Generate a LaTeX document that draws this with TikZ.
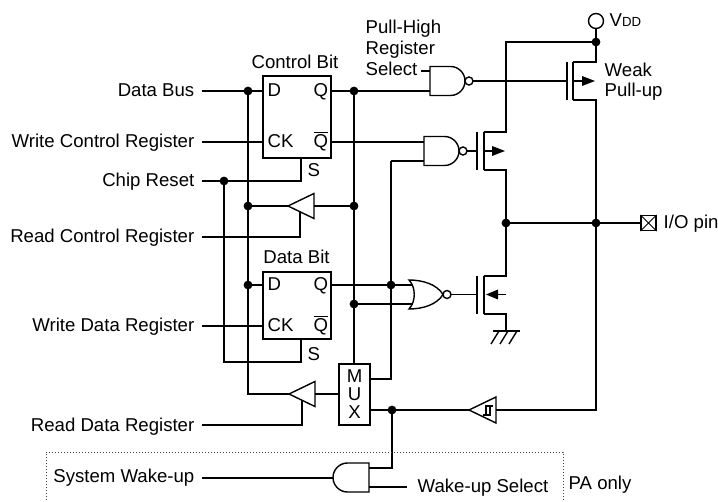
\documentclass[tikz,border=0pt]{standalone}
\usepackage{fontspec}
\setmainfont{Liberation Sans}
\begin{document}
\begin{tikzpicture}[x=0.5pt,y=-0.5pt,line width=0.7pt,line join=miter,
  lbl/.style={inner sep=0pt,font=\fontsize{9.3}{11}\selectfont},
  jdot/.style={circle,fill,inner sep=0pt,minimum size=4.4pt},
  ffbox/.style={draw,rectangle,inner sep=0pt,minimum width=34pt},
  dottedline/.style={line width=0.5pt,black!75,dash pattern=on 0.5pt off 1pt},
  nandgate/.pic={
    \draw (0,-14.5) -- (20.5,-14.5) .. controls (28.5,-14.5) and (35,-8) .. (35,0)
          .. controls (35,8) and (28.5,14.5) .. (20.5,14.5) -- (0,14.5) -- cycle;
    \draw (39,0) circle[radius=2pt];},
  andgate/.pic={
    \draw (0,-14.5) -- (21.5,-14.5) .. controls (29.5,-14.5) and (36,-8) .. (36,0)
          .. controls (36,8) and (29.5,14.5) .. (21.5,14.5) -- (0,14.5) -- cycle;},
  norgate/.pic={
    \draw (0,-14.5) .. controls (7,-7) and (7,7) .. (0,14.5)
          .. controls (14,14.5) and (28,10) .. (34,0)
          .. controls (28,-10) and (14,-14.5) .. (0,-14.5) -- cycle;
    \draw (38,0) circle[radius=2pt];}
]
\useasboundingbox (0,0) rectangle (718,502);

% ---------- boxes ----------
\node[ffbox,minimum height=41pt] (cb) at (297,117) {};
\node[ffbox,minimum height=33.5pt] (db) at (297,305.5) {};
\node[draw,rectangle,inner sep=0pt,minimum width=15.5pt,minimum height=30.5pt] (mux) at (354.5,394.5) {};
\node[draw,rectangle,inner sep=0pt,minimum width=7.5pt,minimum height=7.5pt,line width=0.55pt] (io) at (648.5,223) {};
\draw[line width=0.5pt] (io.north west) -- (io.south east) (io.north east) -- (io.south west);
\node[draw,circle,inner sep=0pt,minimum size=7.5pt] (vdd) at (596,21) {};

% ---------- labels ----------
\node[lbl,anchor=base east] (tDB) at (195,97) {Data Bus};
\node[lbl,anchor=base east] (tWC) at (195,148) {Write Control Register};
\node[lbl,anchor=base east] (tCR) at (195,187) {Chip Reset};
\node[lbl,anchor=base east] (tRC) at (195,243) {Read Control Register};
\node[lbl,anchor=base east] (tWD) at (195,332) {Write Data Register};
\node[lbl,anchor=base east] (tRD) at (195,431) {Read Data Register};
\node[lbl,anchor=base east] (tSW) at (195,482) {System Wake-up};
\node[lbl,anchor=base west] (tWS) at (417,492) {Wake-up Select};
\node[lbl,anchor=base west] (tPA) at (568,489) {PA only};
\node[lbl,anchor=base] (tCB) at (295,69) {Control Bit};
\node[lbl,anchor=base] (tDBt) at (296.5,264) {Data Bit};
\node[lbl,anchor=base west] (cD) at (267,97) {D};
\node[lbl,anchor=base west] (cQ) at (313,97) {Q};
\node[lbl,anchor=base west] (cCK) at (267,148) {CK};
\node[lbl,anchor=base west] (cQb) at (313,148) {$\overline{\hbox{Q}}$};
\node[lbl,anchor=base west] (cS) at (307,177) {S};
\node[lbl,anchor=base west] (dD) at (267,291) {D};
\node[lbl,anchor=base west] (dQ) at (313,291) {Q};
\node[lbl,anchor=base west] (dCK) at (267,332) {CK};
\node[lbl,anchor=base west] (dQb) at (313,332) {$\overline{\hbox{Q}}$};
\node[lbl,anchor=base west] (dS) at (307,361) {S};
\node[lbl] (mM) at (354.5,376) {M};
\node[lbl] (mU) at (354.5,394.5) {U};
\node[lbl] (mX) at (354.5,412.5) {X};
\node[lbl,anchor=base west] (tPH1) at (365,34) {Pull-High};
\node[lbl,anchor=base west] (tPH2) at (365,55) {Register};
\node[lbl,anchor=base west] (tPH3) at (365,76) {Select};
\node[lbl,anchor=base west] (tWk1) at (604,77) {Weak};
\node[lbl,anchor=base west] (tWk2) at (604,97) {Pull-up};
\node[lbl,anchor=base west] (tIO) at (663,229) {I/O pin};
\node[lbl,anchor=base west] (tVDD) at (609,27) {V{\fontsize{6.6}{7}\selectfont DD}};

% ---------- junction dots ----------
\node[jdot] (j1) at (248,91) {};
\node[jdot] (j2) at (354,91) {};
\node[jdot] (j3) at (224,181) {};
\node[jdot] (j4) at (248,206) {};
\node[jdot] (j5) at (354,206) {};
\node[jdot] (j6) at (248,285) {};
\node[jdot] (j7) at (391,285) {};
\node[jdot] (j8) at (354,304) {};
\node[jdot] (j9) at (392,410) {};
\node[jdot] (j10) at (506,223) {};
\node[jdot] (j11) at (596,223) {};
\node[jdot] (j12) at (596,42) {};

% ---------- gates ----------
\pic at (430,81) {nandgate};
\pic at (424,151) {nandgate};
\pic at (409,294.5) {norgate};
\pic[xscale=-1] at (369,477.5) {andgate};

% buffers
\draw (288,206) -- (314,193.5) -- (314,218.5) -- cycle;
\draw (289,394) -- (315,381.5) -- (315,406.5) -- cycle;
\draw (469,410) -- (496,397) -- (496,423) -- cycle;
\draw[line width=0.55pt] (483,415) -- (490,415) -- (490,406) (493,406) -- (486,406) -- (486,415);

% ---------- wires: left inputs ----------
\draw (tDB.east |- j1) ++(7,0) -- (cb.west |- j1);
\draw (j1.center) -- (248,394) -- (289,394);
\draw (j6.center) -- (db.west |- j6);
\draw (tWC.east |- 0,142) ++(7,0) -- (cb.west |- 0,142);
\draw (tCR.east |- j3) ++(7,0) -- (301,181) -- (cb.south -| 301,0);
\draw (j3.center) -- (224,362) -- (301,362) -- (db.south -| 301,0);
\draw (j4.center) -- (288,206);
\draw (314,206) -- (j5.center);
\draw (tRC.east |- 0,237) ++(7,0) -- (300,237) -- (300,212);
\draw (tWD.east |- 0,326) ++(7,0) -- (db.west |- 0,326);
\draw (315,394) -- (mux.west |- 0,394);
\draw (tRD.east |- 0,425) ++(7,0) -- (302,425) -- (302,400.5);

% ---------- flip-flop outputs ----------
\draw (cb.east |- j2) -- (430,91);
\draw (j2.center) -- (mux.north -| j2);
\draw (cb.east |- 0,142) -- (424,142);
\draw (421,71) -- (430,71);
\draw (db.east |- j7) -- (413,285);
\draw (j8.center) -- (413,304);
\draw (391,161) -- (424,161);
\draw (391,161) -- (391,379) -- (mux.east |- 0,379);

% ---------- output stage ----------
% weak pull-up PMOS
\draw (473,81) -- (567,81);
\draw (567,62) -- (567,100);
\draw (573,62) -- (573,100);
\draw (vdd.south) -- (j12.center) -- (596,62) -- (573,62);
\draw (573,100) -- (596,100) -- (596,410) -- (496,410);
\draw (573,81) -- (583,81);
\fill (582,76) -- (595,81) -- (582,86) -- cycle;
% main PMOS
\draw (j12.center) -- (506,42) -- (506,132) -- (484,132);
\draw (484,132) -- (484,170);
\draw (484,170) -- (506,170) -- (506,276) -- (484,276);
\draw (477,132) -- (477,170);
\draw (467,151) -- (477,151);
\draw (484,151) -- (493,151);
\fill (492,146) -- (505,151) -- (492,156) -- cycle;
% NMOS
\draw (451,294.5) -- (477,294.5);
\draw (477,276) -- (477,314);
\draw (484,276) -- (484,314);
\draw (484,314) -- (506,314) -- (506,331);
\draw (506,294.5) -- (497,294.5);
\fill (486,294.5) -- (498,289.5) -- (498,299.5) -- cycle;
% ground
\draw (493,331) -- (520,331);
\draw (499,331) -- (491,344) (508,331) -- (500,344) (517,331) -- (509,344);
% I/O line
\draw (j10.center) -- (io.west);

% ---------- MUX / wake-up ----------
\draw (mux.east |- j9) -- (469,410);
\draw (j9.center) -- (392,468) -- (369,468);
\draw (369,487) -- (407,487);
\draw (tSW.east |- 0,478) ++(7,0) -- (333,478);

% dotted frame
\draw[dottedline] (46,503) -- (46,452) -- (563,452) -- (563,503);
\end{tikzpicture}
\end{document}
